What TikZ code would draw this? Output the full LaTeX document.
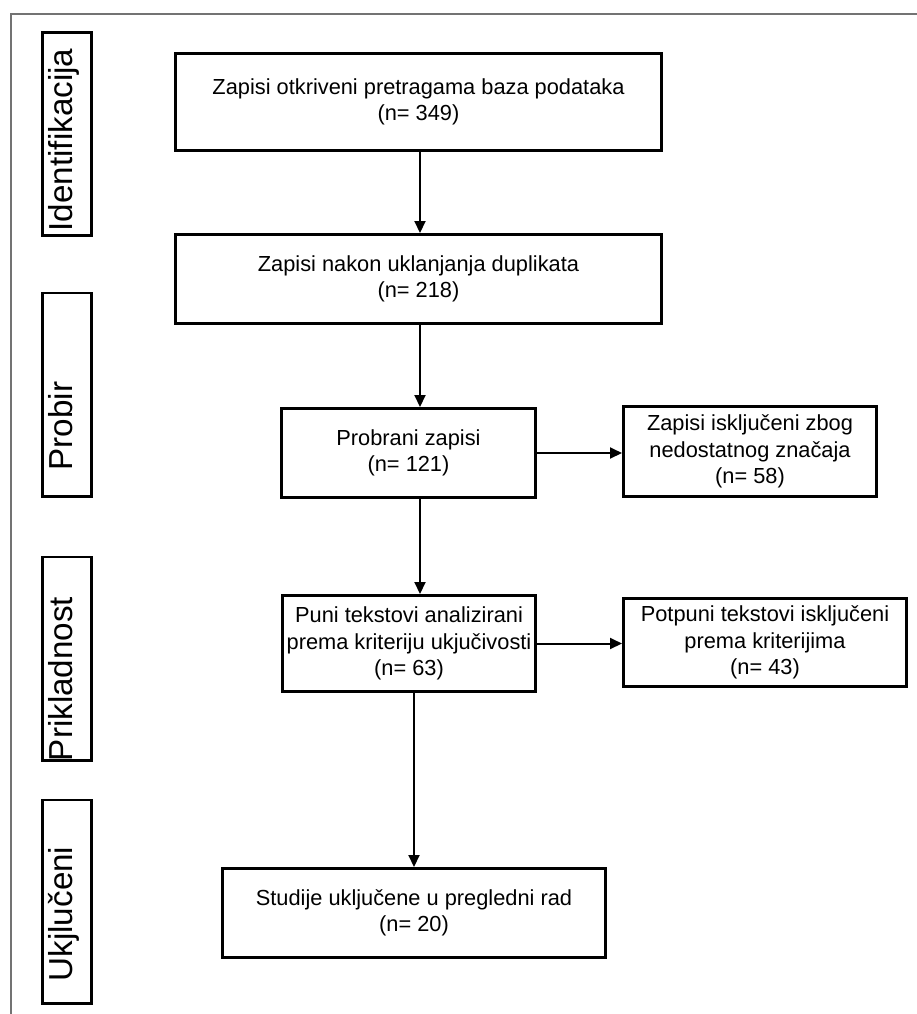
\documentclass[tikz,border=0pt]{standalone}
\usepackage{fontspec}
\setmainfont{Liberation Sans}
\usetikzlibrary{arrows.meta,positioning}

\begin{document}
\begin{tikzpicture}[
    x=0.5pt, y=-0.5pt,
    every node/.style={font=\fontsize{10.9}{13.3}\selectfont},
    box/.style={draw, line width=1.4pt, inner sep=1pt, minimum height=44.6pt, align=center},
    stage/.style={draw, line width=1.4pt, minimum width=24.6pt, minimum height=101.6pt},
    stagetxt/.style={rotate=90, anchor=mid, inner sep=0pt, font=\fontsize{16.6}{18}\selectfont},
    arr/.style={-{Triangle[length=6pt, width=5.5pt]}, line width=1pt}
]
\useasboundingbox (0,0) rectangle (917,1014);
\draw[black!55, line width=1pt] (11,1014) -- (11,14) -- (917,14);

% stages
\node[stage] (s1) at (67,134) {};
\node[stage] (s2) at (67,394.5) {};
\node[stage] (s3) at (67,658.5) {};
\node[stage] (s4) at (67,901.5) {};
\node[stagetxt] (t1) at (67.5,140) {Identifikacija};
\node[stagetxt] (t2) at (67.5,426) {Probir};
\node[stagetxt] (t3) at (67.5,679) {Prikladnost};
\node[stagetxt] (t4) at (67.5,914) {Ukjlučeni};

% flow
\node[box, minimum width=243.1pt, minimum height=48.6pt] (id1) at (418.5,102) {Zapisi otkriveni pretragama baza podataka\\(n= 349)};
\node[box, minimum width=243.1pt] (id2) at (418.5,279) {Zapisi nakon uklanjanja duplikata\\(n= 218)};
\node[box, minimum width=127.1pt] (id3) at (408.5,453) {Probrani zapisi\\(n= 121)};
\node[box, minimum width=126.6pt, minimum height=45.1pt] (ex1) at (750,451.5) {Zapisi isključeni zbog\\nedostatnog značaja\\(n= 58)};
\node[box, minimum width=126.6pt, minimum height=48.1pt] (id4) at (409,643.5) {Puni tekstovi analizirani\\prema kriteriju ukjučivosti\\(n= 63)};
\node[box, minimum width=141.6pt, minimum height=44.1pt] (ex2) at (765,642.5) {Potpuni tekstovi isključeni\\prema kriterijima\\(n= 43)};
\node[box, minimum width=191.6pt] (id5) at (414,913) {Studije uključene u pregledni rad\\(n= 20)};

\coordinate (spine) at (420,0);
\draw[arr] (id1.south -| spine) -- (id2.north -| spine);
\draw[arr] (id2.south -| spine) -- (id3.north -| spine);
\draw[arr] (id3.south -| spine) -- (id4.north -| spine);
\draw[arr] (id4.south -| id5.north) -- (id5.north);
\draw[arr] (id3.east) -- (id3.east -| ex1.west);
\draw[arr] (id4.east) -- (id4.east -| ex2.west);
\end{tikzpicture}
\end{document}
